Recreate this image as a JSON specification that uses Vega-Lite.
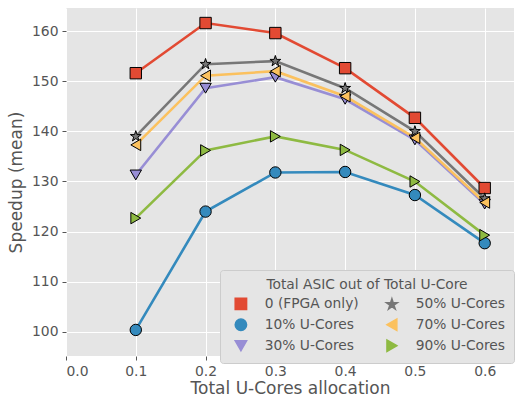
{
  "$schema": "https://vega.github.io/schema/vega-lite/v6.json",
  "autosize": {"type": "none"},
  "padding": {"left": 66, "top": 8, "right": 2, "bottom": 42},
  "width": 448,
  "height": 348,
  "background": "white",
  "config": {
    "font": "DejaVu Sans",
    "view": {"fill": "#E5E5E5", "stroke": null},
    "axis": {
      "gridColor": "white", "gridWidth": 1, "domain": false,
      "tickColor": "#555555", "tickSize": 4, "labelColor": "#555555",
      "titleColor": "#555555", "labelFontSize": 13.9, "titleFontSize": 17,
      "titleFontWeight": "normal", "labelFont": "DejaVu Sans", "titleFont": "DejaVu Sans"
    },
    "legend": {"labelFont": "DejaVu Sans", "titleFont": "DejaVu Sans"}
  },
  "data": {
    "values": [
      {"x": 0.1, "y": 151.6, "s": "0 (FPGA only)"},
      {"x": 0.2, "y": 161.6, "s": "0 (FPGA only)"},
      {"x": 0.3, "y": 159.6, "s": "0 (FPGA only)"},
      {"x": 0.4, "y": 152.6, "s": "0 (FPGA only)"},
      {"x": 0.5, "y": 142.7, "s": "0 (FPGA only)"},
      {"x": 0.6, "y": 128.7, "s": "0 (FPGA only)"},
      {"x": 0.1, "y": 100.4, "s": "10% U-Cores"},
      {"x": 0.2, "y": 124.0, "s": "10% U-Cores"},
      {"x": 0.3, "y": 131.8, "s": "10% U-Cores"},
      {"x": 0.4, "y": 131.9, "s": "10% U-Cores"},
      {"x": 0.5, "y": 127.3, "s": "10% U-Cores"},
      {"x": 0.6, "y": 117.7, "s": "10% U-Cores"},
      {"x": 0.1, "y": 131.3, "s": "30% U-Cores"},
      {"x": 0.2, "y": 148.6, "s": "30% U-Cores"},
      {"x": 0.3, "y": 150.8, "s": "30% U-Cores"},
      {"x": 0.4, "y": 146.4, "s": "30% U-Cores"},
      {"x": 0.5, "y": 138.3, "s": "30% U-Cores"},
      {"x": 0.6, "y": 125.5, "s": "30% U-Cores"},
      {"x": 0.1, "y": 139.0, "s": "50% U-Cores"},
      {"x": 0.2, "y": 153.4, "s": "50% U-Cores"},
      {"x": 0.3, "y": 154.0, "s": "50% U-Cores"},
      {"x": 0.4, "y": 148.6, "s": "50% U-Cores"},
      {"x": 0.5, "y": 140.0, "s": "50% U-Cores"},
      {"x": 0.6, "y": 126.6, "s": "50% U-Cores"},
      {"x": 0.1, "y": 137.3, "s": "70% U-Cores"},
      {"x": 0.2, "y": 151.1, "s": "70% U-Cores"},
      {"x": 0.3, "y": 152.0, "s": "70% U-Cores"},
      {"x": 0.4, "y": 147.0, "s": "70% U-Cores"},
      {"x": 0.5, "y": 138.7, "s": "70% U-Cores"},
      {"x": 0.6, "y": 125.8, "s": "70% U-Cores"},
      {"x": 0.1, "y": 122.7, "s": "90% U-Cores"},
      {"x": 0.2, "y": 136.2, "s": "90% U-Cores"},
      {"x": 0.3, "y": 139.0, "s": "90% U-Cores"},
      {"x": 0.4, "y": 136.3, "s": "90% U-Cores"},
      {"x": 0.5, "y": 130.0, "s": "90% U-Cores"},
      {"x": 0.6, "y": 119.3, "s": "90% U-Cores"}
    ]
  },
  "encoding": {
    "x": {"field": "x", "type": "quantitative", "title": "Total U-Cores allocation",
      "scale": {"domain": [0, 0.642], "nice": false, "zero": false},
      "axis": {"values": [0, 0.1, 0.2, 0.3, 0.4, 0.5, 0.6], "format": ".1f", "titlePadding": 3, "labelPadding": 4}},
    "y": {"field": "y", "type": "quantitative", "title": "Speedup (mean)",
      "scale": {"domain": [95.2, 164.6], "nice": false, "zero": false},
      "axis": {"values": [100, 110, 120, 130, 140, 150, 160], "titlePadding": 6, "labelPadding": 4}},
    "color": {"field": "s", "type": "nominal",
      "scale": {"domain": ["0 (FPGA only)", "10% U-Cores", "30% U-Cores", "50% U-Cores", "70% U-Cores", "90% U-Cores"],
        "range": ["#E24A33", "#348ABD", "#988ED5", "#777777", "#FBC15E", "#8EBA42"]},
      "legend": {"title": "Total ASIC out of Total U-Core", "orient": "none", "legendX": 154, "legendY": 262,
        "columns": 2, "direction": "vertical", "fillColor": "#E5E5E5", "strokeColor": "#CCCCCC", "cornerRadius": 3,
        "padding": 8, "titleColor": "#555555", "labelColor": "#555555", "titleFontSize": 13.8, "labelFontSize": 13.8,
        "titleLimit": 400, "labelLimit": 300,
        "titleFontWeight": "normal", "titleAnchor": "middle", "symbolSize": 130, "symbolOffset": 6,
        "columnPadding": 20, "rowPadding": 3, "labelOffset": 17}}
  },
  "layer": [
    {
      "mark": {"type": "line", "strokeWidth": 2.6}
    },
    {
      "mark": {"type": "point", "filled": true, "opacity": 1, "stroke": "black", "strokeWidth": 1, "size": 130},
      "encoding": {
        "shape": {"field": "s", "type": "nominal",
          "scale": {"domain": ["0 (FPGA only)", "10% U-Cores", "30% U-Cores", "50% U-Cores", "70% U-Cores", "90% U-Cores"],
            "range": ["square", "circle", "triangle-down", "M0,-1L0.223,-0.307L0.951,-0.309L0.361,0.117L0.588,0.809L0,0.38L-0.588,0.809L-0.361,0.117L-0.951,-0.309L-0.223,-0.307Z", "triangle-left", "triangle-right"]},
          "legend": {"title": "Total ASIC out of Total U-Core", "orient": "none", "legendX": 154, "legendY": 262,
            "columns": 2, "direction": "vertical", "fillColor": "#E5E5E5", "strokeColor": "#CCCCCC", "cornerRadius": 3,
            "padding": 8, "titleColor": "#555555", "labelColor": "#555555", "titleFontSize": 13.8, "labelFontSize": 13.8,
            "titleLimit": 400, "labelLimit": 300,
            "titleFontWeight": "normal", "titleAnchor": "middle", "symbolSize": 130, "symbolOffset": 6,
            "columnPadding": 20, "rowPadding": 3, "labelOffset": 17}}
      }
    }
  ]
}
